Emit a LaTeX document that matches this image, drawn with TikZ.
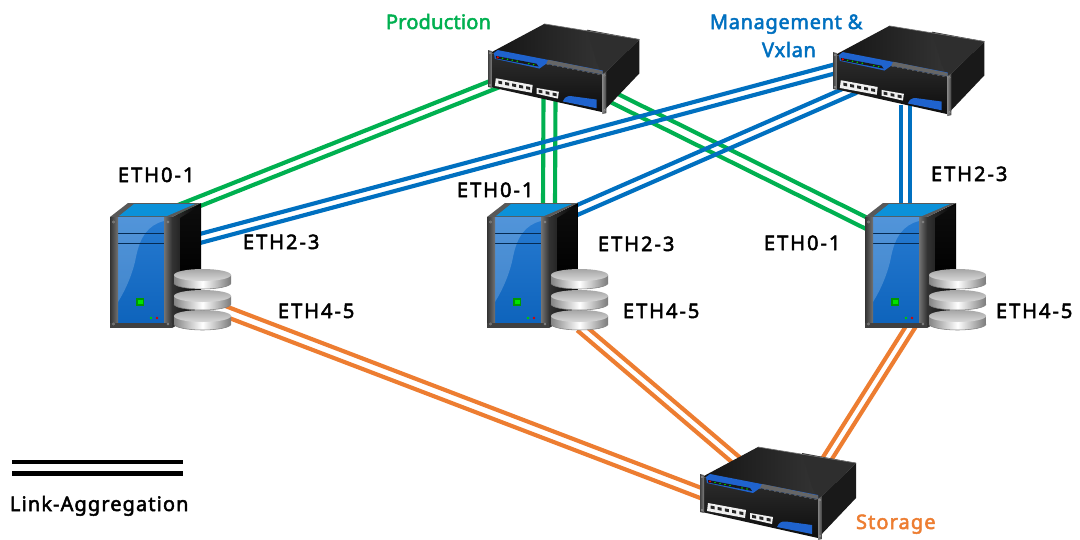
\documentclass[tikz,border=0pt]{standalone}
\usepackage{fontspec}
\setmainfont{Noto Sans}[FakeBold=2.5]
\newfontfamily\fethfont{Noto Sans}[FakeBold=2.5,LetterSpace=10]
\newfontfamily\flegfont{Noto Sans}[FakeBold=2.5,LetterSpace=5.5]
\newfontfamily\fprodfont{Noto Sans}[FakeBold=2.5,LetterSpace=1]
\newfontfamily\fmgmtfont{Noto Sans}[FakeBold=2.5,LetterSpace=3.2]
\usetikzlibrary{calc}
\definecolor{cgreen}{HTML}{00B050}
\definecolor{cblue}{HTML}{0070C0}
\definecolor{corange}{HTML}{ED7D31}
\definecolor{bandblue}{HTML}{1F63CE}
\definecolor{srvblue}{HTML}{0F6CCC}
\tikzset{
  linkline/.style={line width=3.1pt},
  lbl/.style={anchor=base west,inner sep=0pt,outer sep=0pt},
  ethlbl/.style={lbl,font=\fethfont\fontsize{15}{18}\selectfont},
  screw/.style={fill=black!70,draw=black!40,line width=0.2pt},
  pics/switchbox/.style={code={
    % side
    \fill[black!90] (116,23) -- (154,-14) -- (154,21) -- (116,61) -- cycle;
    % top
    \shade[left color=black!92,right color=black!76] (0,0) -- (56,-30) -- (154,-14) -- (116,23) -- cycle;
    \fill[black!82] (100,-24) -- (154,-14) -- (116,23) -- (110,10) -- cycle;
    \draw[black!55,line width=0.5pt] (56,-30) -- (154,-14);
    % front
    \shade[top color=black!82,bottom color=black!95] (0,0) -- (116,23) -- (116,61) -- (0,35) -- cycle;
    % band
    \fill[bandblue] (4,0) -- (8,-3) -- (116,18) -- (116,22) -- (58,11) -- (51,16) -- (5,6) -- cycle;
    \fill[black!60] (58,11) -- (60,7) -- (116,18.5) -- (116,22) -- cycle;
    \fill[black!90] (6,3) -- (48,11) -- (50,14) -- (6,5.5) -- cycle;
    \fill[red!90!black] (8,4.5) circle (1.2);
    \foreach \lx/\ly in {13/5.5,18/6.5,23/7.5,28/8.5,40/11,45/12} \fill[green!80!black] (\lx,\ly) circle (0.9);
    % ports
    \fill[black!6] (6,26) -- (44,33) -- (43,41) -- (5,34) -- cycle;
    \foreach \i in {0,...,4} \fill[black!85] ({8.5+\i*7.2},{28.5+\i*1.45}) -- ++(4,0.8) -- ++(0,3) -- ++(-4,-0.8) -- cycle;
    \fill[black!6] (48,36) -- (71,40) -- (70,47) -- (48,42) -- cycle;
    \foreach \i in {0,1,2} \fill[black!85] ({50+\i*7.3},{37.8+\i*1.5}) -- ++(4,0.8) -- ++(0,3) -- ++(-4,-0.8) -- cycle;
    % lower blue
    \fill[bandblue] (75,50) .. controls (77,46) and (79,44) .. (84,44.5) -- (110,48) -- (110,57) -- cycle;
    % posts
    \shade[left color=black!75,right color=black!50] (-2,-3) -- (2,-2) -- (2,36) -- (-2,35) -- cycle;
    \shade[left color=black!50,right color=black!75] (116,22) -- (120,19) -- (120,62) -- (116,63) -- cycle;
    \fill[screw] (0,0) circle (0.9);
    \fill[screw] (0,33) circle (0.9);
    \fill[screw] (118,23) circle (0.9);
    \fill[screw] (118,59) circle (0.9);
  }},
  pics/serverbox/.style={code={
    % side panel
    \shade[left color=black!80,right color=black] (62,0) -- (91,-14) -- (91,95) -- (62,111) -- cycle;
    \shade[top color=black!95,bottom color=black] (70,1) -- (90,-11) -- (90,50) -- (70,62) -- cycle;
    % top
    \fill[black!65] (0,0) -- (18,-14) -- (91,-14) -- (62,0) -- cycle;
    \fill[srvblue!75!cyan] (9,-1) -- (24,-13) -- (85,-13) -- (57,-1) -- cycle;
    % front
    \fill[black!72] (0,0) rectangle (62,111);
    \shade[top color=srvblue!90!white,bottom color=srvblue!92!black] (8,0) rectangle (54,107);
    \fill[white,opacity=0.2] (8,0) -- (54,0) -- (54,4) .. controls (38,8) and (30,20) .. (26,40) .. controls (23,56) and (16,72) .. (8,85) -- cycle;
    \draw[black!60!srvblue,line width=0.6pt] (8,16) -- (54,16) (8,26) -- (54,26);
    % posts
    \shade[left color=black!80,right color=black!55] (0,0) rectangle (8,108);
    \shade[left color=black!55,right color=black!80] (54,0) rectangle (62,108);
    \fill[black!75] (0,106) rectangle (62,111);
    \foreach \sx/\sy in {3.5/5,58/5,3.5/107,58/107} \fill[screw] (\sx,\sy) circle (1.1);
    % lights
    \fill[black!40!green] (26,81) rectangle (34,89);
    \fill[green!90!black] (27.5,82.5) rectangle (32.5,87);
    \fill[green!80!black] (41,101) circle (1.4);
    \fill[red!85!black] (47,101) circle (1.4);
    % disks, lowest first
    \foreach \dy in {99,79,58}{
      \shade[left color=black!48,right color=black!52,middle color=white]
        (64,\dy) -- (64,{\dy+8}) arc[start angle=180,end angle=0,x radius=28.5,y radius=6] -- (121,\dy) -- cycle;
      \draw[black!50,line width=0.4pt] (64,{\dy+8}) arc[start angle=180,end angle=0,x radius=28.5,y radius=6];
      \shade[top color=black!35,bottom color=black!15] (92.5,\dy) ellipse (28.5 and 6);
    }
  }}
}
\newcommand{\linkpair}[4]{%
  \draw[linkline,#1] ($(#2)!#4*0.75pt!90:(#3)$) -- ($(#3)!#4*0.75pt!-90:(#2)$);
  \draw[linkline,#1] ($(#2)!#4*0.75pt!-90:(#3)$) -- ($(#3)!#4*0.75pt!90:(#2)$);
}
\begin{document}
\begin{tikzpicture}[x=0.75pt,y=-0.75pt]
\path[fill=white,use as bounding box] (0,0) rectangle (1080,539);
% link end points
\coordinate (gOneA) at (505,80);   \coordinate (gOneB) at (176,210.7);
\coordinate (gTwoA) at (549.5,95); \coordinate (gTwoB) at (549,206);
\coordinate (gThrA) at (606,94);   \coordinate (gThrB) at (868,224);
\coordinate (bOneA) at (840,67.5); \coordinate (bOneB) at (198,239);
\coordinate (bTwoA) at (855,88.5); \coordinate (bTwoB) at (575,211);
\coordinate (bThrA) at (905.5,105);\coordinate (bThrB) at (905.5,206);
\coordinate (oOneA) at (222,310);  \coordinate (oOneB) at (710,496.5);
\coordinate (oTwoA) at (580,327);  \coordinate (oTwoB) at (742,465);
\coordinate (oThrA) at (913,323);  \coordinate (oThrB) at (825,462);
\coordinate (legA) at (12,467.7);  \coordinate (legB) at (183,467.7);
\linkpair{cgreen}{gOneA}{gOneB}{4.6}
\linkpair{cgreen}{gTwoA}{gTwoB}{6}
\linkpair{cgreen}{gThrA}{gThrB}{5.3}
\linkpair{cblue}{bOneA}{bOneB}{4.4}
\linkpair{cblue}{bTwoA}{bTwoB}{4.6}
\linkpair{cblue}{bThrA}{bThrB}{4.5}
\linkpair{corange}{oOneA}{oOneB}{4.9}
\linkpair{corange}{oTwoA}{oTwoB}{4.4}
\linkpair{corange}{oThrA}{oThrB}{4.3}
\linkpair{black,line width=3.5pt}{legA}{legB}{5.7}
% devices
\pic (swProd) [shift={(490,53)},scale=0.97] {switchbox};
\pic (swMgmt) [shift={(835,55)},scale=0.97] {switchbox};
\pic (swStor) [shift={(702,477)}] {switchbox};
\pic (srvA) [shift={(110,217)}] {serverbox};
\pic (srvB) [shift={(487,217)}] {serverbox};
\pic (srvC) [shift={(865,217)}] {serverbox};
% labels
\node[lbl,text=cgreen,font=\fprodfont\fontsize{15}{18}\selectfont] (tProd) at (386,29) {Production};
\node[lbl,text=cblue,font=\fmgmtfont\fontsize{15}{18}\selectfont] (tMgmt) at (710,29) {Management \&};
\node[lbl,text=cblue,font=\fmgmtfont\fontsize{15}{18}\selectfont] (tVx) at (762,57) {Vxlan};
\node[lbl,text=corange,font=\flegfont\fontsize{15}{18}\selectfont] (tStor) at (856,529) {Storage};
\node[ethlbl] (tA0) at (118,182) {ETH0-1};
\node[ethlbl] (tA2) at (243,249) {ETH2-3};
\node[ethlbl] (tA4) at (278,318) {ETH4-5};
\node[ethlbl] (tB0) at (457,197) {ETH0-1};
\node[ethlbl] (tB2) at (598,251) {ETH2-3};
\node[ethlbl] (tB4) at (623,318) {ETH4-5};
\node[ethlbl] (tC0) at (764,250) {ETH0-1};
\node[ethlbl] (tC2) at (931,181) {ETH2-3};
\node[ethlbl] (tC4) at (996,318) {ETH4-5};
\node[lbl,font=\flegfont\fontsize{15}{18}\selectfont] (tLeg) at (10,511) {Link-Aggregation};
\end{tikzpicture}
\end{document}
